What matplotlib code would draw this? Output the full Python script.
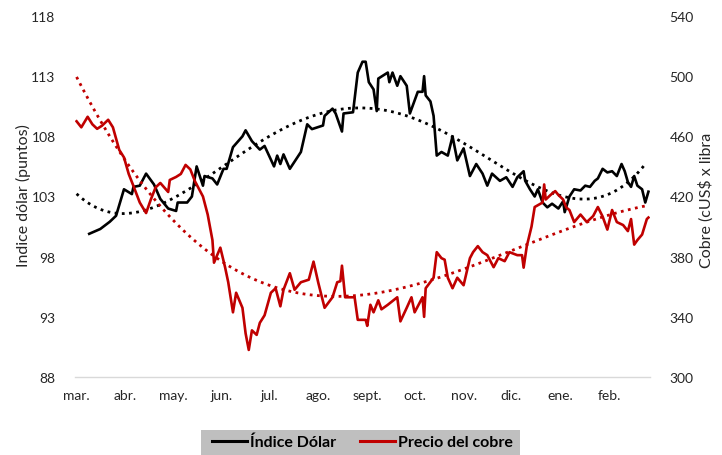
import numpy as np
import matplotlib
matplotlib.use("Agg")
import matplotlib.pyplot as plt
import matplotlib.dates as mdates
from matplotlib.patches import Rectangle

plt.rcParams['font.family'] = ['Lato', 'DejaVu Sans']

START = np.datetime64('2022-03-01')

# Índice Dólar: (days since 1 Mar 2022, value)
dollar_days = [8, 15, 21, 25, 30, 35, 36, 40, 44, 49, 53, 58, 63, 64, 70, 73, 76, 80, 81, 86,
               89, 93, 95, 99, 105, 107, 111, 116, 119, 125, 127, 129, 131, 135, 142, 146, 149,
               156, 157, 162, 164, 168, 169, 175, 178, 181, 183, 185, 188, 190, 191, 197, 198,
               200, 203, 205, 209, 211, 216, 219, 220, 221, 224, 226, 228, 231, 235, 238, 241,
               245, 249, 253, 257, 260, 263, 268, 272, 276, 279, 283, 284, 287, 290, 292, 295,
               298, 301, 305, 308, 309, 312, 315, 319, 322, 325, 328, 330, 333, 336, 339, 342,
               345, 347, 349, 351, 353, 355, 358, 360, 362]
dollar_vals = [99.9, 100.3, 100.9, 101.4, 103.6, 103.2, 103.8, 103.9, 104.9, 104.0, 102.8, 102.0,
               101.8, 102.5, 102.5, 103.0, 105.5, 103.9, 104.7, 104.5, 104.0, 105.3, 105.3, 107.1,
               108.0, 108.5, 107.6, 106.9, 107.2, 105.5, 106.4, 105.7, 106.5, 105.3, 106.7, 109.0,
               108.6, 108.9, 109.7, 110.3, 109.9, 108.4, 109.9, 110.0, 113.3, 114.2, 114.2, 112.5,
               111.9, 110.1, 112.8, 113.3, 112.5, 113.3, 112.2, 113.0, 112.2, 109.9, 111.7, 111.7,
               113.0, 111.4, 110.9, 109.7, 106.4, 106.7, 106.4, 108.0, 106.0, 107.0, 104.7, 105.7,
               104.9, 103.9, 104.9, 104.3, 104.6, 103.8, 104.6, 105.1, 104.3, 103.6, 103.0, 103.6,
               102.5, 102.1, 102.4, 102.0, 102.6, 101.7, 103.0, 103.6, 103.5, 103.9, 103.8, 104.3,
               104.5, 105.3, 105.0, 105.1, 104.7, 105.7, 105.1, 104.2, 103.8, 104.7, 103.9, 103.6,
               102.5, 103.4]

# Precio del cobre: (days since 1 Mar 2022, cUS$ per lb)
copper_days = [0, 3, 7, 10, 13, 16, 20, 23, 27, 30, 33, 36, 40, 44, 47, 50, 53, 58, 59, 63, 66,
               69, 72, 75, 80, 83, 86, 87, 91, 94, 96, 99, 101, 105, 107, 109, 111, 114, 116, 119,
               123, 126, 129, 131, 135, 138, 142, 147, 150, 153, 157, 162, 165, 167, 168, 170,
               176, 178, 183, 184, 186, 188, 191, 193, 197, 203, 205, 209, 212, 214, 219, 220,
               221, 226, 228, 231, 233, 235, 238, 241, 245, 249, 251, 254, 257, 260, 264, 267,
               271, 274, 279, 282, 283, 285, 288, 290, 295, 296, 297, 300, 303, 305, 308, 310,
               312, 315, 319, 323, 327, 330, 333, 336, 339, 342, 346, 349, 351, 353, 355, 358,
               361, 362]
copper_vals = [470, 466, 473, 468, 465, 467, 471, 466, 451, 446, 435, 427, 416, 409, 418, 426, 429,
               423, 431, 433, 435, 441, 438, 430, 420, 408, 391, 376, 386, 373, 363, 343, 356, 346,
               329, 318, 331, 328, 336, 341, 356, 359, 347, 358, 369, 358, 363, 364.7, 376.7,
               362.7, 346, 353, 363, 363.7, 374, 353, 353, 338, 338, 334, 348, 343, 351, 345, 348,
               353, 337, 346, 353, 343, 353, 340, 359, 366, 383, 379, 378, 366, 359, 366, 361, 379,
               383, 387, 383, 381, 373, 379, 377, 383, 381, 381, 372.7, 387, 400, 413, 416, 428,
               418, 421, 423.6, 421, 418, 412.7, 411, 403, 408, 403, 407, 413, 406.7, 398, 411,
               403, 401, 397, 405, 388, 391, 394.7, 405, 406]

month_labels = ['mar.', 'abr.', 'may.', 'jun.', 'jul.', 'ago.', 'sept.', 'oct.', 'nov.', 'dic.',
                'ene.', 'feb.']

dollar_days = np.array(dollar_days)
copper_days = np.array(copper_days)
dollar_vals = np.array(dollar_vals)
copper_vals = np.array(copper_vals)

d_dates = START + dollar_days.astype('timedelta64[D]')
c_dates = START + copper_days.astype('timedelta64[D]')

# polynomial trend lines (like spreadsheet trendlines), fitted on a daily grid
def trend(days, vals, deg, x_eval):
    grid = np.arange(days.min(), days.max() + 1)
    g = np.interp(grid, days, vals)
    coef = np.polyfit(grid, g, deg)
    return np.polyval(coef, x_eval)

x_tr = np.arange(0, 361)
tr_dates = START + x_tr.astype('timedelta64[D]')
d_trend = trend(dollar_days, dollar_vals, 4, x_tr)
c_trend = trend(copper_days, copper_vals, 3, x_tr)

fig = plt.figure(figsize=(7.22, 4.56), dpi=100)
ax = fig.add_axes([75/722, 1-378/456, (650-75)/722, (378-17)/456])
ax2 = ax.twinx()

RED = '#c00000'
ax.plot(d_dates, dollar_vals, color='black', lw=1.9, solid_joinstyle='round', label='Índice Dólar')
ax.plot(tr_dates, d_trend, color='black', lw=2.0, linestyle=(0, (1, 1.6)))
ax2.plot(c_dates, copper_vals, color=RED, lw=1.9, solid_joinstyle='round', label='Precio del cobre')
ax2.plot(tr_dates, c_trend, color=RED, lw=2.0, linestyle=(0, (1, 1.6)))

ax.set_ylim(88, 118)
ax.set_yticks(np.arange(88, 119, 5))
ax2.set_ylim(300, 540)
ax2.set_yticks(np.arange(300, 541, 40))

x0 = START - np.timedelta64(1, 'D')
x1 = START + np.timedelta64(363, 'D')
ax.set_xlim(mdates.date2num(x0), mdates.date2num(x1))

month_starts = np.arange(np.datetime64('2022-03'), np.datetime64('2023-03')).astype('datetime64[D]')
ax.set_xticks(mdates.date2num(month_starts))
ax.set_xticklabels(month_labels)

TXT = '#262626'
for a in (ax, ax2):
    for s in a.spines.values():
        s.set_visible(False)
    a.tick_params(length=0, labelsize=10, colors=TXT)
ax.spines['bottom'].set_visible(True)
ax.spines['bottom'].set_color('#d9d9d9')
ax.spines['bottom'].set_linewidth(1.0)
ax.tick_params(axis='y', pad=14)
ax2.tick_params(axis='y', pad=14)
ax.tick_params(axis='x', pad=9)

fig.text(23/722, 1-196/456, 'Indice dólar (puntos)', rotation=90, ha='center', va='center',
         fontsize=11.5, color=TXT)
fig.text(706/722, 1-200/456, 'Cobre (cUS$ x libra', rotation=90, ha='center', va='center',
         fontsize=11.5, color=TXT)

# legend background band
fig.patches.append(Rectangle((201/722, 0), (520-201)/722, (456-431)/456,
                             transform=fig.transFigure, facecolor='#bfbfbf',
                             edgecolor='none', zorder=0))
h1, l1 = ax.get_legend_handles_labels()
h2, l2 = ax2.get_legend_handles_labels()
leg = fig.legend(h1 + h2, l1 + l2, loc='center', bbox_to_anchor=(0.502, 1-443/456), ncol=2,
                 frameon=False, prop={'weight': 'bold', 'size': 11.5}, handlelength=2.2,
                 handletextpad=0.2, columnspacing=1.5)
for lh in leg.get_lines():
    lh.set_linewidth(2.2)

fig.savefig('out.png', dpi=100)
